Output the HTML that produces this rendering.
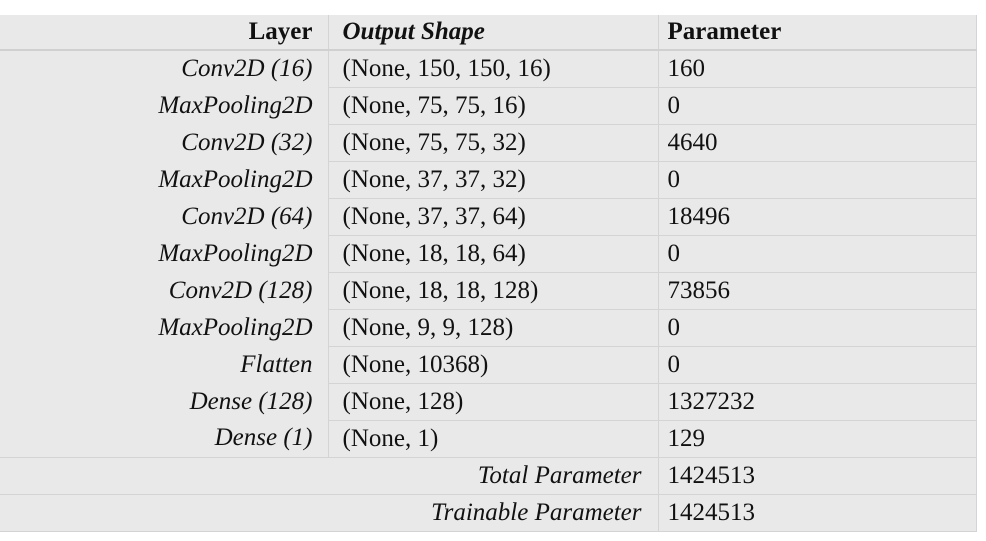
<html><head><style>
body{margin:0;background:#fff;width:986px;height:541px;overflow:hidden;font-family:"Liberation Serif",serif;}
table{position:absolute;left:0;top:15px;width:976px;border-collapse:collapse;background:#e9e9e9;font-size:25px;color:#111;table-layout:fixed;}
td{height:37px;padding:0 10px 0 14px;border:1px solid #d4d4d4;white-space:nowrap;}
td.a{text-align:right;font-style:italic;border-top:none;border-bottom:none;border-left:none;padding-right:15px;}
td.c{padding-left:9px;}
tr.h td{height:35px;border-top:none;font-weight:bold;border-bottom:2px solid #d0d0d0;}
tr.h td.a{font-style:normal;border-right:none;border-bottom:2px solid #d0d0d0;}
td.s{text-align:right;font-style:italic;border-left:none;padding-right:16px;}
</style></head><body>
<table>
<colgroup><col style="width:328px"><col style="width:330px"><col style="width:318px"></colgroup>
<tr class="h"><td class="a">Layer</td><td class="b" style="font-style:italic">Output Shape</td><td class="c">Parameter</td></tr>
<tr><td class="a">Conv2D (16)</td><td class="b">(None, 150, 150, 16)</td><td class="c">160</td></tr>
<tr><td class="a">MaxPooling2D</td><td class="b">(None, 75, 75, 16)</td><td class="c">0</td></tr>
<tr><td class="a">Conv2D (32)</td><td class="b">(None, 75, 75, 32)</td><td class="c">4640</td></tr>
<tr><td class="a">MaxPooling2D</td><td class="b">(None, 37, 37, 32)</td><td class="c">0</td></tr>
<tr><td class="a">Conv2D (64)</td><td class="b">(None, 37, 37, 64)</td><td class="c">18496</td></tr>
<tr><td class="a">MaxPooling2D</td><td class="b">(None, 18, 18, 64)</td><td class="c">0</td></tr>
<tr><td class="a">Conv2D (128)</td><td class="b">(None, 18, 18, 128)</td><td class="c">73856</td></tr>
<tr><td class="a">MaxPooling2D</td><td class="b">(None, 9, 9, 128)</td><td class="c">0</td></tr>
<tr><td class="a">Flatten</td><td class="b">(None, 10368)</td><td class="c">0</td></tr>
<tr><td class="a">Dense (128)</td><td class="b">(None, 128)</td><td class="c">1327232</td></tr>
<tr><td class="a">Dense (1)</td><td class="b">(None, 1)</td><td class="c">129</td></tr>
<tr><td class="s" colspan="2">Total Parameter</td><td class="c">1424513</td></tr>
<tr><td class="s" colspan="2">Trainable Parameter</td><td class="c">1424513</td></tr>
</table>
</body></html>
